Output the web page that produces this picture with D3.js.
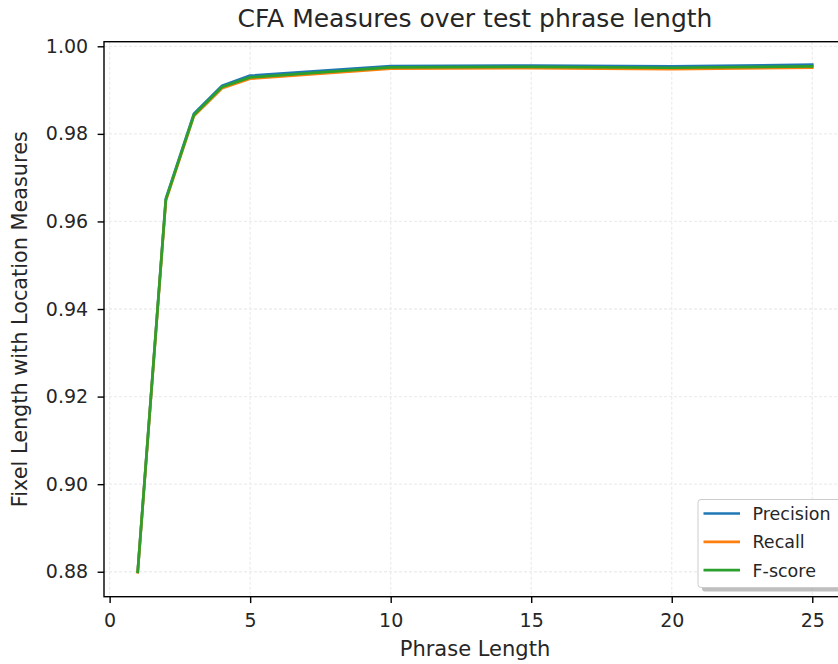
<!DOCTYPE html>
<html><head><meta charset="utf-8">
<script src="https://cdn.jsdelivr.net/npm/d3@7"></script>
<style>body{margin:0;background:#fff}svg{display:block}text{font-family:"DejaVu Sans",sans-serif;fill:#262626}</style>
</head><body>
<script>
const phraseLength = [1, 2, 3, 4, 5, 10, 15, 20, 25];
const precision = [0.8801, 0.9652, 0.9846, 0.9910, 0.9933, 0.9955, 0.9956, 0.9954, 0.9958];
const recall    = [0.8799, 0.9647, 0.9841, 0.9904, 0.9926, 0.9949, 0.9950, 0.9948, 0.9951];
const fscore    = [0.8800, 0.9650, 0.9843, 0.9907, 0.9929, 0.9952, 0.9953, 0.9951, 0.9954];
const xTicks = [0, 5, 10, 15, 20, 25];
const yTicks = [0.88, 0.90, 0.92, 0.94, 0.96, 0.98, 1.00];
const seriesNames = ["Precision", "Recall", "F-score"];
const seriesColors = ["#1f77b4", "#ff7f0e", "#2ca02c"];
const seriesValues = [precision, recall, fscore];

const W = 838, H = 664;
const L = 104, R = 846, T = 41.7, B = 596.7;
const svg = d3.select("body").append("svg").attr("width", W).attr("height", H);
const x = d3.scaleLinear().domain([-0.2, 26.2]).range([L, R]);
const y = d3.scaleLinear().domain([0.8743, 1.00105]).range([B, T]);

// grid
const g = svg.append("g");
g.selectAll(".gx").data(xTicks).enter().append("line")
  .attr("x1", d => x(d)).attr("x2", d => x(d)).attr("y1", T).attr("y2", B)
  .attr("stroke", "#ededed").attr("stroke-width", 1.3).attr("stroke-dasharray", "3,2");
g.selectAll(".gy").data(yTicks).enter().append("line")
  .attr("x1", L).attr("x2", R).attr("y1", d => y(d)).attr("y2", d => y(d))
  .attr("stroke", "#ededed").attr("stroke-width", 1.3).attr("stroke-dasharray", "3,2");

// lines
const line = d3.line().x((d, i) => x(phraseLength[i])).y(d => y(d));
seriesValues.forEach((vals, k) => {
  svg.append("path").datum(vals).attr("d", line)
    .attr("fill", "none").attr("stroke", seriesColors[k]).attr("stroke-width", 2.7)
    .attr("stroke-linejoin", "round").attr("stroke-linecap", "square");
});

// axes
const xAxis = d3.axisBottom(x).tickValues(xTicks).tickFormat(d3.format("d")).tickSize(6.4).tickPadding(10);
const yAxis = d3.axisLeft(y).tickValues(yTicks).tickFormat(d3.format(".2f")).tickSize(6.4).tickPadding(9.5);
const gx = svg.append("g").attr("transform", `translate(0,${B})`).call(xAxis);
const gy = svg.append("g").attr("transform", `translate(${L},0)`).call(yAxis);
[gx, gy].forEach(a => {
  a.select(".domain").remove();
  a.selectAll(".tick line").attr("stroke", "#000").attr("stroke-width", 1.4);
  a.selectAll(".tick text").attr("font-size", 19).attr("fill", "#262626")
    .style("font-family", '"DejaVu Sans", sans-serif');
});

// frame
svg.append("rect").attr("x", L).attr("y", T).attr("width", R - L).attr("height", B - T)
  .attr("fill", "none").attr("stroke", "#000").attr("stroke-width", 1.4);

// title and labels
svg.append("text").attr("x", (L + R) / 2).attr("y", 27).attr("text-anchor", "middle")
  .attr("font-size", 25).text("CFA Measures over test phrase length");
svg.append("text").attr("x", (L + R) / 2).attr("y", 656).attr("text-anchor", "middle")
  .attr("font-size", 21).text("Phrase Length");
svg.append("text").attr("transform", `translate(27,${(T + B) / 2}) rotate(-90)`).attr("text-anchor", "middle")
  .attr("font-size", 20.8).text("Fixel Length with Location Measures");

// legend
const lx = 698, ly = 499.5, lw = 150, lh = 88;
svg.append("rect").attr("x", lx + 4).attr("y", ly + 4).attr("width", lw).attr("height", lh)
  .attr("rx", 3).attr("fill", "#808080").attr("opacity", 0.5);
svg.append("rect").attr("x", lx).attr("y", ly).attr("width", lw).attr("height", lh)
  .attr("rx", 3).attr("fill", "#fff").attr("stroke", "#cccccc").attr("stroke-width", 1);
seriesNames.forEach((n, k) => {
  const yy = 513.5 + k * 28.3;
  svg.append("line").attr("x1", 703.5).attr("x2", 740).attr("y1", yy).attr("y2", yy)
    .attr("stroke", seriesColors[k]).attr("stroke-width", 2.7);
  svg.append("text").attr("x", 752.5).attr("y", yy + 6.5).attr("font-size", 17.5).text(n);
});
</script>
</body></html>
